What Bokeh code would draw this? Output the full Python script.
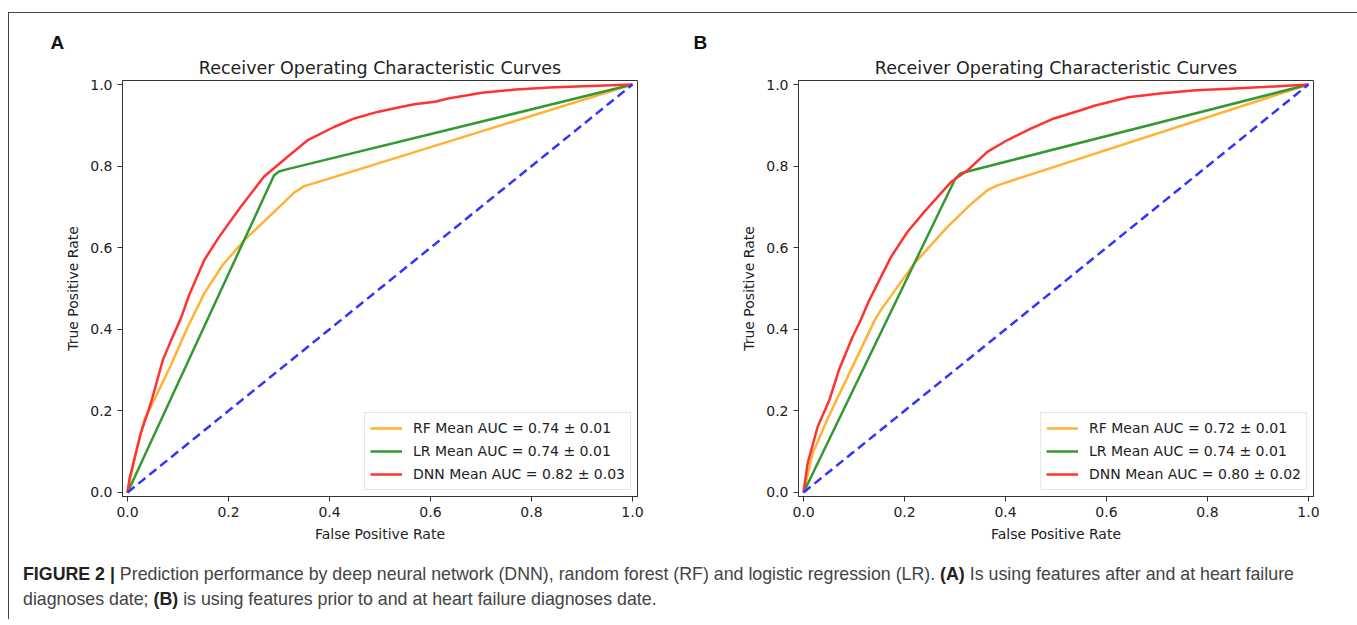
from bokeh.plotting import figure
from bokeh.models import Div, FixedTicker, PrintfTickFormatter, Range1d, Title
from bokeh.layouts import column, row
from bokeh.embed import file_html
from bokeh.resources import INLINE

TITLE = "Receiver Operating Characteristic Curves"
TICKS = [0.0, 0.2, 0.4, 0.6, 0.8, 1.0]

# ---------------- Panel A ----------------
rf_a_fpr = [0, 0.013, 0.033, 0.056, 0.085, 0.119, 0.152, 0.188, 0.231, 0.297, 0.33, 0.35, 0.38, 1.0]
rf_a_tpr = [0, 0.079, 0.177, 0.235, 0.31, 0.405, 0.488, 0.557, 0.618, 0.696, 0.735, 0.751, 0.762, 1.0]
lr_a_fpr = [0, 0.29, 0.30, 0.315, 1.0]
lr_a_tpr = [0, 0.777, 0.787, 0.792, 1.0]
dnn_a_fpr = [0, 0.004, 0.0099, 0.026, 0.046, 0.07, 0.089, 0.106, 0.122, 0.152, 0.181, 0.224, 0.27,
             0.317, 0.356, 0.409, 0.449, 0.495, 0.541, 0.568, 0.609, 0.635, 0.702, 0.769, 0.836, 0.903, 1.0]
dnn_a_tpr = [0, 0.035, 0.063, 0.145, 0.218, 0.325, 0.381, 0.428, 0.484, 0.570, 0.626, 0.70, 0.774,
             0.823, 0.863, 0.896, 0.917, 0.933, 0.945, 0.952, 0.958, 0.966, 0.980, 0.988, 0.993, 0.996, 1.0]
labels_a = ["RF Mean AUC = 0.74 \u00b1 0.01", "LR Mean AUC = 0.74 \u00b1 0.01", "DNN Mean AUC = 0.82 \u00b1 0.03"]

# ---------------- Panel B ----------------
rf_b_fpr = [0, 0.018, 0.051, 0.084, 0.115, 0.14, 0.153, 0.219, 0.285, 0.33, 0.364, 0.384, 1.0]
rf_b_tpr = [0, 0.096, 0.19, 0.275, 0.355, 0.42, 0.447, 0.561, 0.651, 0.705, 0.741, 0.753, 1.0]
lr_b_fpr = [0, 0.30, 0.311, 0.325, 1.0]
lr_b_tpr = [0, 0.768, 0.782, 0.787, 1.0]
dnn_b_fpr = [0, 0.008, 0.028, 0.051, 0.07, 0.08, 0.097, 0.113, 0.13, 0.173, 0.206, 0.239, 0.292, 0.325,
             0.364, 0.404, 0.45, 0.496, 0.549, 0.576, 0.643, 0.71, 0.777, 0.844, 0.91, 1.0]
dnn_b_tpr = [0, 0.071, 0.161, 0.226, 0.30, 0.33, 0.381, 0.422, 0.471, 0.577, 0.639, 0.688, 0.761, 0.790,
             0.835, 0.864, 0.892, 0.917, 0.937, 0.948, 0.969, 0.979, 0.986, 0.99, 0.994, 1.0]
labels_b = ["RF Mean AUC = 0.72 \u00b1 0.01", "LR Mean AUC = 0.74 \u00b1 0.01", "DNN Mean AUC = 0.80 \u00b1 0.02"]

chance = [0, 1]

COL_RF = "#ffb233"
COL_LR = "#339a33"
COL_DNN = "#ff3333"
COL_CH = "#3333ff"


def make_panel(letter, letter_offset, rf, lr, dnn, labels, width, mb_left, mb_right):
    p = figure(width=width, height=536, output_backend="svg", toolbar_location=None,
               x_range=Range1d(-0.01, 1.01), y_range=Range1d(-0.01, 1.01),
               min_border_left=mb_left, min_border_right=mb_right,
               min_border_top=67, min_border_bottom=53,
               background_fill_color="white", border_fill_color="white")
    # panel letter (outermost title)
    p.title.text = letter
    p.title.align = "left"
    p.title.offset = letter_offset
    p.title.standoff = 0
    p.title.text_font = "Liberation Sans"
    p.title.text_font_style = "bold"
    p.title.text_font_size = "19px"
    p.title.text_color = "#111111"

    # chart title (closest to the frame)
    p.add_layout(Title(text=TITLE, align="center", standoff=6,
                       text_font="DejaVu Sans", text_font_style="normal",
                       text_font_size="17.5px", text_color="#222222"), "above")

    p.xgrid.visible = False
    p.ygrid.visible = False
    p.outline_line_color = "#333333"
    p.outline_line_width = 1
    p.outline_line_alpha = 1

    for ax in (p.xaxis, p.yaxis):
        ax.ticker = FixedTicker(ticks=TICKS)
        ax.formatter = PrintfTickFormatter(format="%.1f")
        ax.minor_tick_line_color = None
        ax.major_tick_in = 0
        ax.major_tick_out = 5
        ax.major_tick_line_color = "#333333"
        ax.axis_line_color = "#333333"
        ax.major_label_text_font = "DejaVu Sans"
        ax.major_label_text_font_size = "14px"
        ax.major_label_text_color = "#222222"
        ax.major_label_standoff = 5
        ax.axis_label_text_font = "DejaVu Sans"
        ax.axis_label_text_font_size = "14px"
        ax.axis_label_text_font_style = "normal"
        ax.axis_label_text_color = "#222222"
        ax.axis_label_standoff = 6
    p.xaxis.axis_label = "False Positive Rate"
    p.yaxis.axis_label = "True Positive Rate"

    p.line(rf[0], rf[1], line_color=COL_RF, line_width=2.5, legend_label=labels[0])
    p.line(lr[0], lr[1], line_color=COL_LR, line_width=2.5, legend_label=labels[1])
    p.line(dnn[0], dnn[1], line_color=COL_DNN, line_width=2.5, legend_label=labels[2])
    p.line(chance, chance, line_color=COL_CH, line_width=2.5, line_dash="9 5")

    lg = p.legend[0]
    lg.location = "bottom_right"
    lg.margin = 6
    lg.padding = 5
    lg.spacing = 3
    lg.glyph_width = 32
    lg.glyph_height = 20
    lg.label_height = 20
    lg.label_standoff = 11
    lg.label_text_font = "DejaVu Sans"
    lg.label_text_font_size = "14px"
    lg.label_text_color = "#222222"
    lg.border_line_color = "#cccccc"
    lg.border_line_width = 1
    lg.background_fill_alpha = 0.85
    return p


pA = make_panel("A", -72, (rf_a_fpr, rf_a_tpr), (lr_a_fpr, lr_a_tpr), (dnn_a_fpr, dnn_a_tpr), labels_a,
                676, 113, 48)
pB = make_panel("B", -105, (rf_b_fpr, rf_b_tpr), (lr_b_fpr, lr_b_tpr), (dnn_b_fpr, dnn_b_tpr), labels_b,
                663, 113, 35)

caption_html = (
    '<div style="padding:8px 0 0 9px; font-family:\'Liberation Sans\', sans-serif; font-size:17.8px; '
    'line-height:25px; color:#444444; white-space:nowrap;">'
    '<b style="color:#222222">FIGURE 2 |</b> Prediction performance by deep neural network (DNN), '
    'random forest (RF) and logistic regression (LR). <b style="color:#222222">(A)</b> Is using features '
    'after and at heart failure<br>diagnoses date; <b style="color:#222222">(B)</b> is using features prior '
    'to and at heart failure diagnoses date.</div>'
)
caption = Div(text=caption_html, width=1339, height=60)

layout = column(row(pA, pB), caption,
                styles={"border": "1px solid #444444", "border-bottom": "none",
                        "margin-top": "12px", "margin-left": "8px"})

open("out.html", "w").write(file_html(layout, INLINE))
